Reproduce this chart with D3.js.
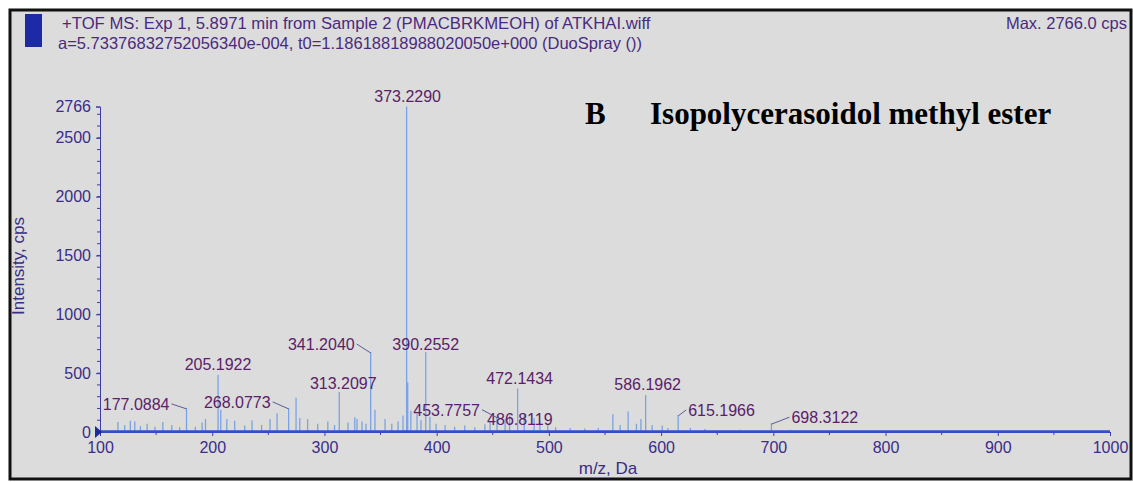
<!DOCTYPE html>
<html>
<head>
<meta charset="utf-8">
<script src="https://cdn.jsdelivr.net/npm/d3@7"></script>
<style>
  body { margin: 0; background: #fff; }
  text { font-family: Arial, 'Liberation Sans', sans-serif; }
  text.title { font-family: 'Liberation Serif', 'Times New Roman', serif; font-weight: bold; }
</style>
</head>
<body>
<script>
// variables:
var w = 1133
var h = 482

// labelled peaks (m/z, intensity in cps)
var peakMz = [177.0884, 205.1922, 268.0773, 313.2097, 341.2040, 373.2290, 390.2552,
  453.7757, 472.1434, 486.8119, 586.1962, 615.1966, 698.3122]
var peakInt = [205, 485, 205, 340, 680, 2766, 680, 130, 370, 120, 315, 145, 75]

// unlabelled / noise sticks
var noiseMz = [116, 122, 127, 131, 136, 142, 149, 156, 164, 171, 185, 191, 194, 207.6, 213,
  220, 229, 235.5, 244, 251.5, 257.8, 274.7, 278, 285, 294, 303, 309, 321, 327, 329, 333.5,
  337, 345, 354, 360, 365.6, 370, 374.2, 377, 382.5, 386, 394, 399.5, 407.5, 416, 425, 434,
  443, 447.6, 461, 465, 478, 492, 499, 506, 519, 532, 544, 557, 563.5, 570.6, 578, 582, 592,
  601, 606, 626, 639, 670, 715]
var noiseInt = [85, 60, 95, 90, 50, 70, 45, 85, 60, 40, 45, 80, 110, 190, 110,
  95, 55, 100, 60, 110, 160, 290, 120, 110, 70, 90, 60, 80, 125, 110, 90,
  70, 190, 110, 70, 90, 140, 420, 180, 155, 100, 130, 70, 60, 45, 55, 40,
  65, 90, 110, 140, 160, 90, 60, 40, 35, 30, 35, 150, 60, 175, 70, 110, 60,
  55, 35, 35, 25, 20, 20]

var xTicks = [100, 200, 300, 400, 500, 600, 700, 800, 900, 1000]
var yTicks = [0, 500, 1000, 1500, 2000, 2500, 2766]

// label placement per labelled peak: anchor, dx from peak, dy from peak top, leader?
var labelPos = [
  ['end', -17, 2, true], ['middle', 0, -5, false], ['end', -18, 0, true],
  ['middle', 4, -3, false], ['end', -16, -2, true], ['middle', 1, -5, false],
  ['middle', 0, -2, false], ['end', -17, -1, true], ['middle', 2, -4, false],
  ['start', -47, 7, false], ['middle', 2, -5, false], ['start', 10, 1, true],
  ['start', 20, 0, true]
]

var svg = d3.select('body')
  .append('svg')
  .attr('width', w)
  .attr('height', h)

// frame
svg.append('rect')
  .attr('x', 10).attr('y', 10)
  .attr('width', 1121).attr('height', 469)
  .attr('fill', '#dcdcdc')
  .attr('stroke', '#111')
  .attr('stroke-width', 3)

svg.append('rect')
  .attr('x', 25).attr('y', 14)
  .attr('width', 17).attr('height', 33)
  .attr('fill', '#1c2aa5')

var hdrColor = '#4a2a80'
svg.append('text')
  .attr('x', 62).attr('y', 29)
  .attr('font-size', '16.7px').attr('fill', hdrColor)
  .text('+TOF MS: Exp 1, 5.8971 min from Sample 2 (PMACBRKMEOH) of ATKHAI.wiff')
svg.append('text')
  .attr('x', 58).attr('y', 49)
  .attr('font-size', '16.5px').attr('fill', hdrColor)
  .text('a=5.73376832752056340e-004, t0=1.18618818988020050e+000 (DuoSpray ())')
svg.append('text')
  .attr('x', 1127).attr('y', 29)
  .attr('text-anchor', 'end')
  .attr('font-size', '16.5px').attr('fill', hdrColor)
  .text('Max. 2766.0 cps')

// scales
var xScale = d3.scaleLinear().domain([100, 1000]).range([100, 1110])
var yScale = d3.scaleLinear().domain([0, 2766]).range([432, 106.5])

var axisColor = '#3c3ca8'
var tickText = '#3a2c88'

// y axis
var yAxis = svg.append('g')
  .attr('transform', 'translate(100,0)')
  .call(d3.axisLeft(yScale).tickValues(yTicks).tickSize(4).tickFormat(d3.format('d')))
yAxis.select('.domain').attr('stroke', axisColor)
yAxis.selectAll('.tick line').attr('stroke', axisColor)
yAxis.selectAll('.tick text')
  .attr('fill', tickText)
  .attr('font-size', '16px')
  .attr('font-family', 'Arial, sans-serif')
  .attr('dx', '-2')

svg.append('g')
  .selectAll('line')
  .data(d3.range(100, 2766, 100))
  .enter()
  .append('line')
  .attr('x1', 97).attr('x2', 100)
  .attr('y1', function (d) { return yScale(d) })
  .attr('y2', function (d) { return yScale(d) })
  .attr('stroke', axisColor)

// x axis
var xAxis = svg.append('g')
  .attr('transform', 'translate(0,432)')
  .call(d3.axisBottom(xScale).tickValues(xTicks).tickSize(4).tickFormat(d3.format('d')))
xAxis.select('.domain').attr('stroke', axisColor)
xAxis.selectAll('.tick line').attr('stroke', axisColor)
xAxis.selectAll('.tick text')
  .attr('fill', tickText)
  .attr('font-size', '16px')
  .attr('font-family', 'Arial, sans-serif')
  .attr('dy', '0.9em')

svg.append('g')
  .selectAll('line')
  .data(d3.range(150, 1000, 100))
  .enter()
  .append('line')
  .attr('x1', function (d) { return xScale(d) })
  .attr('x2', function (d) { return xScale(d) })
  .attr('y1', 432).attr('y2', 435)
  .attr('stroke', axisColor)

// axis titles
svg.append('text')
  .attr('x', 608).attr('y', 474)
  .attr('text-anchor', 'middle')
  .attr('font-size', '17px').attr('fill', tickText)
  .text('m/z, Da')
svg.append('text')
  .attr('transform', 'translate(24,266) rotate(-90)')
  .attr('text-anchor', 'middle')
  .attr('font-size', '17px').attr('fill', tickText)
  .text('Intensity, cps')

// spectrum sticks
var noise = noiseMz.map(function (m, i) { return { mz: m, v: noiseInt[i] } })
var peaks = peakMz.map(function (m, i) { return { mz: m, v: peakInt[i], pos: labelPos[i] } })

svg.append('g')
  .selectAll('line')
  .data(noise.concat(peaks))
  .enter()
  .append('line')
  .attr('x1', function (d) { return xScale(d.mz) })
  .attr('x2', function (d) { return xScale(d.mz) })
  .attr('y1', yScale(0))
  .attr('y2', function (d) { return yScale(d.v) })
  .attr('stroke', '#7aa2e8')
  .attr('stroke-width', 1.3)

// thick baseline trace
svg.append('line')
  .attr('x1', xScale(100)).attr('x2', xScale(1000))
  .attr('y1', yScale(0) - 0.5).attr('y2', yScale(0) - 0.5)
  .attr('stroke', '#3050cc')
  .attr('stroke-width', 2.5)

// origin marker
svg.append('path')
  .attr('d', 'M' + (xScale(100) - 5) + ',' + (yScale(0) - 6) + 'L' + (xScale(100) + 2) + ',' + yScale(0) + 'L' + (xScale(100) - 5) + ',' + (yScale(0) + 6) + 'Z')
  .attr('fill', '#1c2a9a')

// peak labels
var lblColor = '#5a2068'
svg.append('g')
  .selectAll('text')
  .data(peaks)
  .enter()
  .append('text')
  .attr('x', function (d) { return xScale(d.mz) + d.pos[1] })
  .attr('y', function (d) { return yScale(d.v) + d.pos[2] })
  .attr('text-anchor', function (d) { return d.pos[0] })
  .attr('font-size', '16px')
  .attr('fill', lblColor)
  .text(function (d) { return d.mz.toFixed(4) })

// leader lines
svg.append('g')
  .selectAll('line')
  .data(peaks.filter(function (d) { return d.pos[3] }))
  .enter()
  .append('line')
  .attr('x1', function (d) {
    var dx = d.pos[1]
    return xScale(d.mz) + (dx < 0 ? dx + 2 : dx - 2)
  })
  .attr('y1', function (d) { return yScale(d.v) + d.pos[2] - 6 })
  .attr('x2', function (d) { return xScale(d.mz) })
  .attr('y2', function (d) { return yScale(d.v) + 1 })
  .attr('stroke', '#5b5a9a')
  .attr('stroke-width', 1)

// panel title
svg.append('text')
  .attr('class', 'title')
  .attr('x', 585).attr('y', 124)
  .attr('font-size', '31px')
  .attr('fill', '#000')
  .text('B')
svg.append('text')
  .attr('class', 'title')
  .attr('x', 650).attr('y', 124)
  .attr('font-size', '31px')
  .attr('fill', '#000')
  .text('Isopolycerasoidol methyl ester')
</script>
</body>
</html>
